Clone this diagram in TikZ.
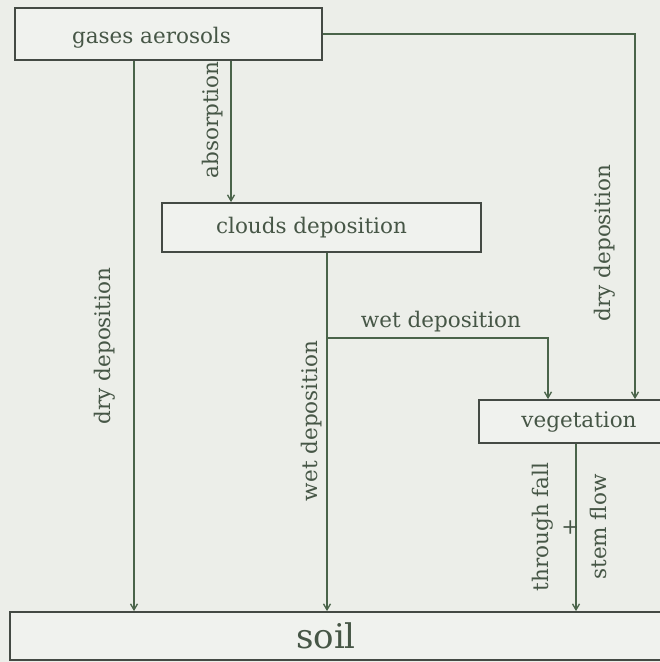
\documentclass[tikz,border=0pt]{standalone}
\usepackage{fontspec}
\setmainfont{DejaVu Serif}
\usetikzlibrary{arrows.meta}
\definecolor{bg}{RGB}{236,238,233}
\definecolor{boxfill}{RGB}{240,242,238}
\definecolor{boxline}{RGB}{68,74,68}
\definecolor{connc}{RGB}{74,100,74}
\definecolor{txt}{RGB}{70,86,70}
\begin{document}
\begin{tikzpicture}[x=1pt,y=-1pt,
  box/.style={draw=boxline, line width=1.8pt, fill=boxfill, rectangle, inner sep=0pt, text=txt, font=\fontsize{21.5}{26}\selectfont},
  conn/.style={draw=connc, line width=1.3pt, -{Straight Barb[length=6pt,width=7pt]}},
  lbl/.style={text=txt, inner sep=0pt, font=\fontsize{21.5}{26}\selectfont}]
\fill[bg] (0,0) rectangle (660,662);
\useasboundingbox (0,0) rectangle (660,662);
% boxes
\node[box, minimum width=307pt, minimum height=52pt] (gases) at (168.5,34) {\raisebox{-4pt}[\height][\depth]{gases aerosols}\hspace*{34pt}};
\node[box, minimum width=319pt, minimum height=49pt] (clouds) at (321.5,227.5) {clouds deposition\hspace*{20pt}};
\node[box, minimum width=200pt, minimum height=43pt] (veg) at (579,421.5) {vegetation};
\node[box, minimum width=700pt, minimum height=48pt, font=\fontsize{34}{40}\selectfont] (soil) at (360,636) {soil\hspace*{68pt}};
% connector x positions
\coordinate (xdry) at (134,0);
\coordinate (xabs) at (231,0);
\coordinate (xwet) at (327,0);
\coordinate (xbr) at (548,0);
\coordinate (xdry2) at (635,0);
\coordinate (xtf) at (576,0);
\coordinate (ybr) at (0,338);
% connectors
\draw[conn] (gases.south -| xdry) -- (soil.north -| xdry);
\draw[conn] (gases.south -| xabs) -- (clouds.north -| xabs);
\draw[conn] (gases.east) -| (veg.north -| xdry2);
\draw[conn] (clouds.south -| xwet) -- (soil.north -| xwet);
\draw[conn] (xwet |- ybr) -| (veg.north -| xbr);
\draw[conn] (veg.south -| xtf) -- (soil.north -| xtf);
% labels
\node[lbl, rotate=90] (l1) at (105,346) {dry deposition};
\node[lbl, rotate=90] (l2) at (213,120) {absorption};
\node[lbl, rotate=90] (l3) at (605,243) {dry deposition};
\node[lbl, rotate=90] (l4) at (312,421) {wet deposition};
\node[lbl] (l5) at (441,322) {wet deposition};
\node[lbl, rotate=90, align=center, font=\fontsize{21.5}{29}\selectfont] (l6) at (569,527) {through fall\\+\\stem flow};
\end{tikzpicture}
\end{document}
